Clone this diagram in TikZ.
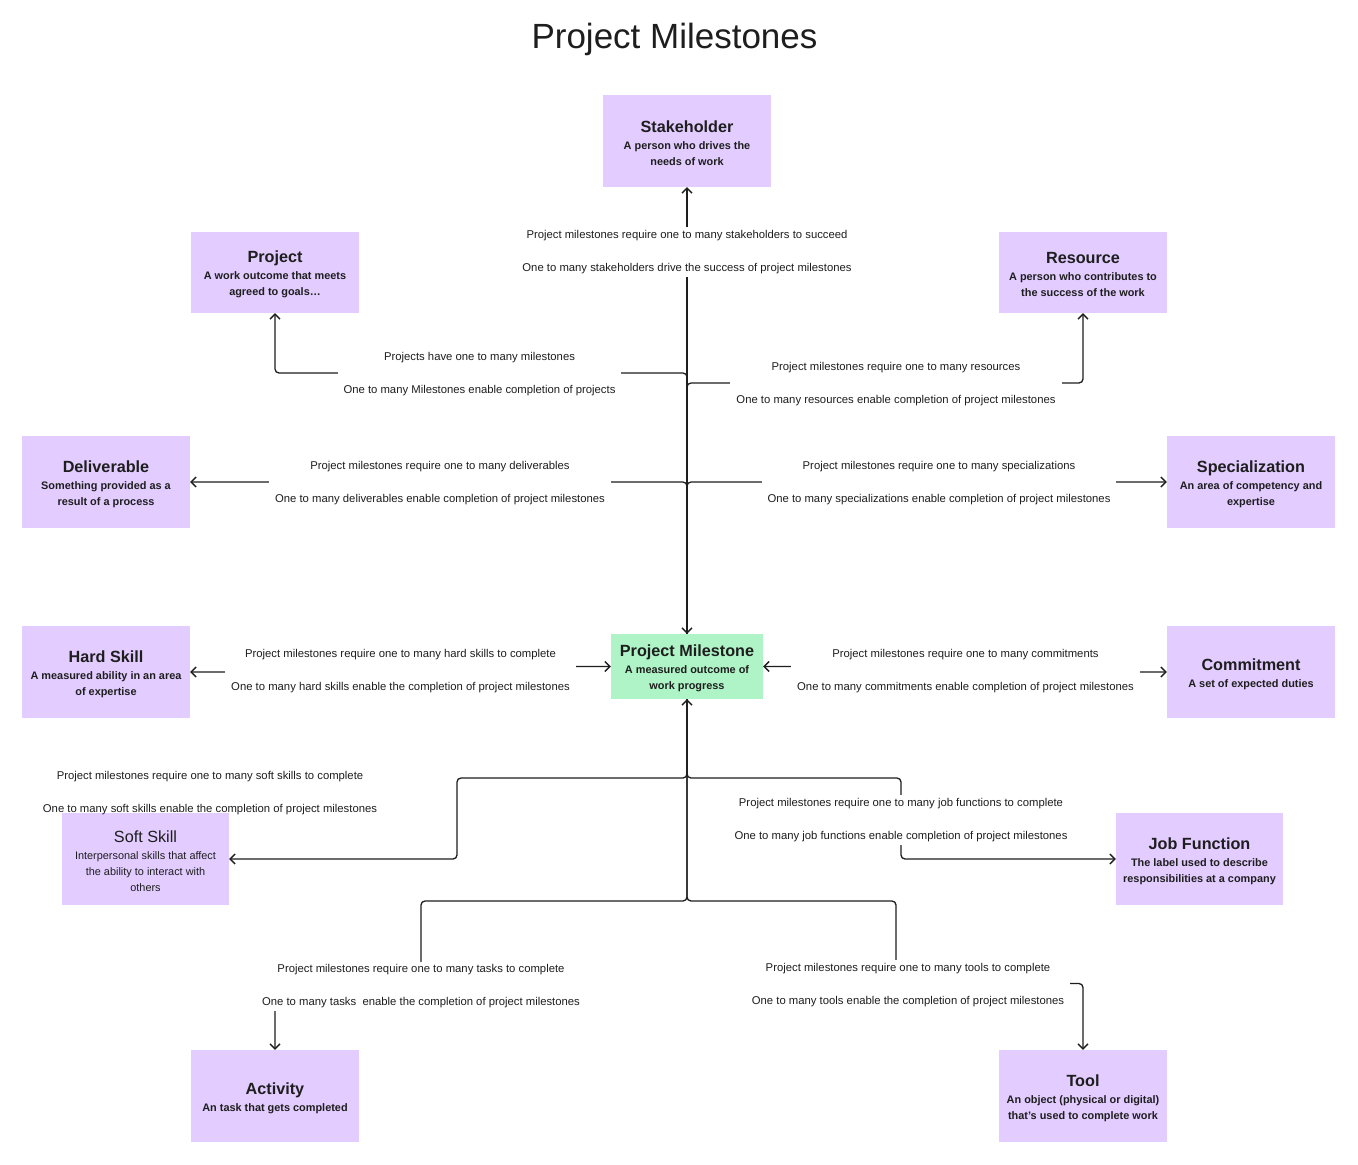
\documentclass[tikz,border=0pt]{standalone}
\usepackage{fontspec}
\setmainfont{Liberation Sans}
\usetikzlibrary{arrows.meta}
\definecolor{ink}{HTML}{1E1E1E}
\definecolor{lav}{HTML}{E3CCFF}
\definecolor{mint}{HTML}{AFF4C6}
\newcommand\ent[2]{{\fontsize{16.2}{18}\selectfont\bfseries\rule{0pt}{15.5pt}#1}\\[1pt]#2}
\begin{document}
\begin{tikzpicture}[x=1pt,y=-1pt,
  >={Straight Barb[length=5pt,width=10pt]},
  box/.style={fill=lav, draw=none, minimum width=168pt, minimum height=92pt, inner sep=0pt, align=center, text=ink, font=\fontsize{10.9}{16}\selectfont\bfseries},
  lbl/.style={fill=white, align=center, text=ink, inner xsep=6pt, inner ysep=3pt, yshift=-1.5pt, font=\fontsize{11.3}{33}\selectfont},
  conn/.style={draw=ink, line width=1.3pt, rounded corners=4pt}]
\useasboundingbox (0,0) rectangle (1358,1165);
\fill[white] (0,0) rectangle (1358,1165);

\node[font=\fontsize{35}{40}\selectfont, text=ink, anchor=base] (title) at (674.5,48) {Project Milestones};

% entity boxes
\node[box] (stake) at (687,141) {\ent{Stakeholder}{A person who drives the\\needs of work}};
\node[box, minimum height=81pt] (proj) at (275,272.5) {\ent{Project}{A work outcome that meets\\agreed to goals…}};
\node[box, minimum height=81pt] (res) at (1083,272.5) {\ent{Resource}{A person who contributes to\\the success of the work}};
\node[box] (del) at (106,482) {\ent{Deliverable}{Something provided as a\\result of a process}};
\node[box] (spec) at (1251,482) {\ent{Specialization}{An area of competency and\\expertise}};
\node[box] (hard) at (106,672) {\ent{Hard Skill}{A measured ability in an area\\of expertise}};
\node[box, fill=mint, minimum width=152pt, minimum height=65pt] (pm) at (687,666.5) {\ent{Project Milestone}{A measured outcome of\\work progress}};
\node[box] (com) at (1251,672) {\ent{Commitment}{A set of expected duties}};
\node[box, minimum width=167pt, font=\fontsize{10.9}{16}\selectfont] (soft) at (145.5,859) {{\fontsize{16.2}{18}\selectfont\rule{0pt}{15.5pt}Soft Skill}\\[1pt]Interpersonal skills that affect\\the ability to interact with\\others};
\node[box, minimum width=167pt] (job) at (1199.5,859) {\ent{Job Function}{The label used to describe\\responsibilities at a company}};
\node[box] (act) at (275,1096) {\ent{Activity}{An task that gets completed}};
\node[box] (tool) at (1083,1096) {\ent{Tool}{An object (physical or digital)\\that’s used to complete work}};

% label anchors and bends
\coordinate (cstake) at (687,250.5);
\coordinate (cproj) at (479.5,373);
\coordinate (cres) at (896,383);
\coordinate (cdel) at (440,482);
\coordinate (cspec) at (939,482);
\coordinate (chard) at (400.5,669.5);
\coordinate (ccom) at (965.5,669.5);
\coordinate (csoft) at (210,791.5);
\coordinate (cjob) at (901,818.5);
\coordinate (cact) at (421,985);
\coordinate (ctool) at (908,983.5);
\coordinate (kl) at (457,778);
\coordinate (kr) at (901,778);
\coordinate (bl) at (421,901);
\coordinate (br) at (896,901);

% connectors
\draw[conn,<->] (pm.north) -- (stake.south);
\draw[conn,->] (pm.north) |- (cproj) -| (proj.south);
\draw[conn,->] (pm.north) |- (cres) -| (res.south);
\draw[conn,->] (pm.north) |- (cdel) -- (del.east);
\draw[conn,->] (pm.north) |- (cspec) -- (spec.west);
\draw[conn,<->] (hard.east) -- (hard.east -| chard) |- (pm.west);
\draw[conn,<->] (pm.east) -| (ccom) |- (com.west);
\draw[conn,<->] (pm.south) |- (kl) |- (soft.east);
\draw[conn,->] (pm.south) |- (kr) |- (job.west);
\draw[conn,->] (pm.south) |- (bl) -- (cact) -| (act.north);
\draw[conn,->] (pm.south) |- (br) -- (br |- ctool) -| (tool.north);

% labels
\node[lbl] (lstake) at (cstake) {Project milestones require one to many stakeholders to succeed\\One to many stakeholders drive the success of project milestones};
\node[lbl] (lproj) at (cproj) {Projects have one to many milestones\\One to many Milestones enable completion of projects};
\node[lbl] (lres) at (cres) {Project milestones require one to many resources\\One to many resources enable completion of project milestones};
\node[lbl] (ldel) at (cdel) {Project milestones require one to many deliverables\\One to many deliverables enable completion of project milestones};
\node[lbl] (lspec) at (cspec) {Project milestones require one to many specializations\\One to many specializations enable completion of project milestones};
\node[lbl] (lhard) at (chard) {Project milestones require one to many hard skills to complete\\One to many hard skills enable the completion of project milestones};
\node[lbl] (lcom) at (ccom) {Project milestones require one to many commitments\\One to many commitments enable completion of project milestones};
\node[lbl, fill=none] (lsoft) at (csoft) {Project milestones require one to many soft skills to complete\\One to many soft skills enable the completion of project milestones};
\node[lbl] (ljob) at (cjob) {Project milestones require one to many job functions to complete\\One to many job functions enable completion of project milestones};
\node[lbl] (lact) at (cact) {Project milestones require one to many tasks to complete\\One to many tasks\ \ enable the completion of project milestones};
\node[lbl] (ltool) at (ctool) {Project milestones require one to many tools to complete\\One to many tools enable the completion of project milestones};
\end{tikzpicture}
\end{document}
